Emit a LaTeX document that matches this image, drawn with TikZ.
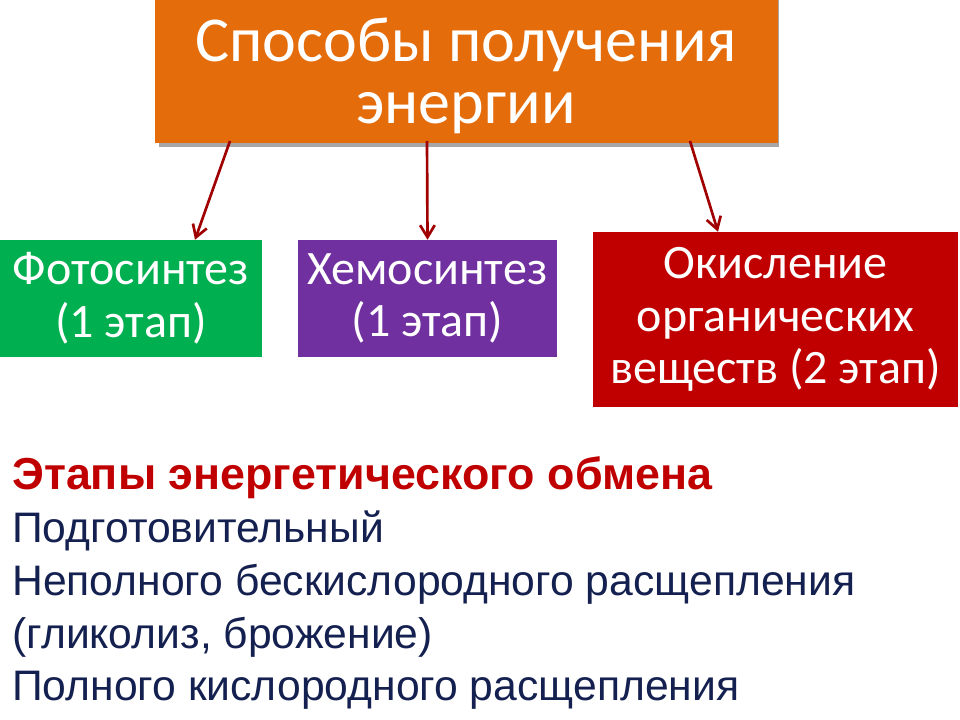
\documentclass[tikz,border=0pt]{standalone}
\usepackage{fontspec}
\setmainfont{Carlito}
\newfontfamily\arialf{Liberation Sans}
\usetikzlibrary{arrows.meta}
\definecolor{orng}{HTML}{E46C0A}
\definecolor{grn}{HTML}{00B050}
\definecolor{prp}{HTML}{7030A0}
\definecolor{rd}{HTML}{C00000}
\definecolor{arr}{HTML}{A00000}
\definecolor{navy}{HTML}{14204F}
\tikzset{
 boxf/.style={draw=none,inner sep=0pt,align=center,text=white,font=\fontsize{36}{39.5}\selectfont},
 conn/.style={arr,line width=2pt,-{Straight Barb[length=9pt,width=11pt,line width=2pt]}},
 bt/.style={anchor=base west,inner sep=0pt,font=\arialf\fontsize{32}{36}\selectfont,text=navy},
}
\begin{document}
\begin{tikzpicture}[x=0.75pt,y=-0.75pt]
\useasboundingbox (0,0) rectangle (960,720);
\fill[gray!70] (159,-5) rectangle (779,147);
\node[boxf,fill=orng,minimum width=623*0.75pt,minimum height=148*0.75pt,font=\fontsize{48}{47}\selectfont] (top) at (466,69) {};
\node[inner sep=0pt,text=white,align=center,font=\fontsize{48}{47}\selectfont] (tt) at (466,76) {Способы получения\\энергии};
\node[boxf,fill=grn,minimum width=262*0.75pt,minimum height=117*0.75pt] (g) at (131,298.5) {Фотосинтез\\(1 этап)};
\node[boxf,fill=prp,minimum width=259*0.75pt,minimum height=117*0.75pt] (p) at (427.5,298.5) {Хемосинтез\\(1 этап)};
\node[boxf,fill=rd,minimum width=365*0.75pt,minimum height=175*0.75pt] (r) at (775.5,319.5) {Окисление\\органических\\веществ (2 этап)};
\coordinate (s1) at (230,141);
\coordinate (s2) at (427,141);
\coordinate (s3) at (690,141);
\draw[conn] (s1) -- (g.north -| 195,0);
\draw[conn] (s2) -- (p.north);
\draw[conn] (s3) -- (r.north -| 718,0);
\node[bt,text=rd,font=\arialf\bfseries\fontsize{33.6}{36}\selectfont] (h) at (12,489) {Этапы энергетического обмена};
\node[bt] (l1) at (12,542) {Подготовительный};
\node[bt] (l2) at (12,595) {Неполного бескислородного расщепления};
\node[bt] (l3) at (12,648) {(гликолиз, брожение)};
\node[bt] (l4) at (12,700) {Полного кислородного расщепления};
\end{tikzpicture}
\end{document}
